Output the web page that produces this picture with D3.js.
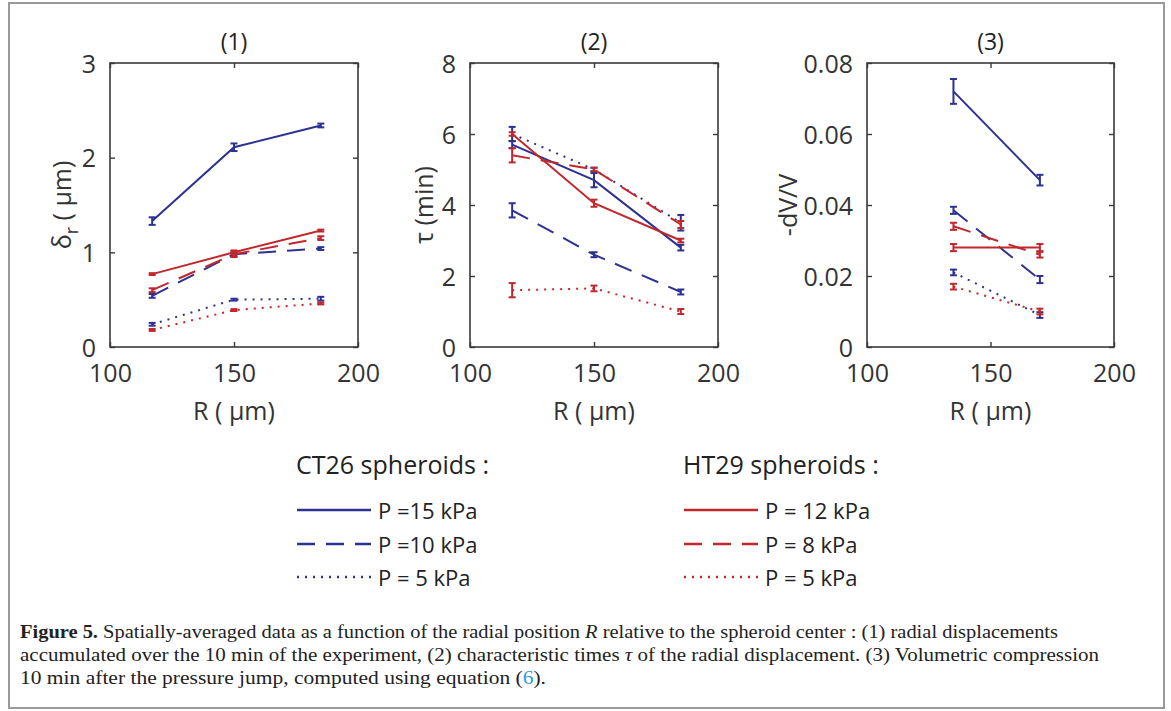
<!DOCTYPE html>
<html><head><meta charset="utf-8">
<script src="https://cdn.jsdelivr.net/npm/d3@7"></script>
<style>
html,body{margin:0;padding:0;background:#fff;}
svg{display:block;}
</style>
</head><body>
<svg id="fig" width="1171" height="711"></svg>
<script>
// ---------- data ----------
const xTicks = [100, 150, 200];
const R12 = [117, 150, 185];          // radial positions, panels 1 & 2
const R3 = [135, 170];                // radial positions, panel 3

const panelTitles = ["(1)", "(2)", "(3)"];
const yTicks1 = [0, 1, 2, 3];
const yTicks2 = [0, 2, 4, 6, 8];
const yTicks3 = [0, 0.02, 0.04, 0.06, 0.08];

const seriesLabels = ["P =15 kPa", "P =10 kPa", "P = 5 kPa", "P = 12 kPa", "P = 8 kPa", "P = 5 kPa"];
const seriesGroups = ["CT26", "CT26", "CT26", "HT29", "HT29", "HT29"];
const seriesKinds = ["solid", "dashed", "dotted", "solid", "dashed", "dotted"];
const groupTitles = ["CT26 spheroids :", "HT29 spheroids :"];

// panel 1: delta_r (um)
const d_ct15 = [1.33, 2.11, 2.34], d_ct15e = [0.04, 0.04, 0.02];
const d_ct10 = [0.54, 0.98, 1.04], d_ct10e = [0.02, 0.02, 0.015];
const d_ct5  = [0.24, 0.50, 0.51], d_ct5e  = [0.015, 0.01, 0.02];
const d_ht12 = [0.77, 1.00, 1.23], d_ht12e = [0.01, 0.02, 0.01];
const d_ht8  = [0.60, 0.98, 1.15], d_ht8e  = [0.02, 0.03, 0.02];
const d_ht5  = [0.18, 0.39, 0.46], d_ht5e  = [0.01, 0.01, 0.01];

// panel 2: tau (min)
const t_ct15 = [5.7, 4.7, 2.8],   t_ct15e = [0.1, 0.2, 0.08];
const t_ct10 = [3.85, 2.6, 1.55], t_ct10e = [0.2, 0.07, 0.07];
const t_ct5  = [6.0, 5.0, 3.5],   t_ct5e  = [0.2, 0.05, 0.22];
const t_ht12 = [6.0, 4.05, 3.0],  t_ht12e = [0.05, 0.1, 0.05];
const t_ht8  = [5.4, 5.0, 3.45],  t_ht8e  = [0.2, 0.05, 0.1];
const t_ht5  = [1.6, 1.65, 1.0],  t_ht5e  = [0.2, 0.08, 0.07];

// panel 3: -dV/V
const v_ct15 = [0.072, 0.047],  v_ct15e = [0.0035, 0.0015];
const v_ct10 = [0.0385, 0.019], v_ct10e = [0.001, 0.001];
const v_ct5  = [0.021, 0.009],  v_ct5e  = [0.0008, 0.0008];
const v_ht12 = [0.028, 0.028],  v_ht12e = [0.001, 0.001];
const v_ht8  = [0.034, 0.026],  v_ht8e  = [0.001, 0.0008];
const v_ht5  = [0.017, 0.010],  v_ht5e  = [0.0008, 0.0008];

// ---------- styles ----------
const colors = {CT26: "#2e3192", HT29: "#c1272d"};
const dashes = {solid: null, dashed: "18,11", dotted: "2,6"};
const FONT = "'Open Sans', 'Noto Sans', sans-serif";

const svg = d3.select("#fig");

// frame
svg.append("rect").attr("x", 9).attr("y", 3).attr("width", 1155).attr("height", 705)
  .attr("fill", "none").attr("stroke", "#9a9a9a").attr("stroke-width", 2);

const panels = [
  {x0: 110, x1: 358, yDomain: [0, 3], yTicks: yTicks1, fmt: d => String(d), R: R12,
   series: [[d_ct15, d_ct15e], [d_ct10, d_ct10e], [d_ct5, d_ct5e], [d_ht12, d_ht12e], [d_ht8, d_ht8e], [d_ht5, d_ht5e]],
   ylabX: 71, ylab: "delta"},
  {x0: 470, x1: 718, yDomain: [0, 8], yTicks: yTicks2, fmt: d => String(d), R: R12,
   series: [[t_ct15, t_ct15e], [t_ct10, t_ct10e], [t_ct5, t_ct5e], [t_ht12, t_ht12e], [t_ht8, t_ht8e], [t_ht5, t_ht5e]],
   ylabX: 433, ylab: "τ (min)"},
  {x0: 867, x1: 1114, yDomain: [0, 0.08], yTicks: yTicks3, fmt: d => d === 0 ? "0" : d3.format(".2f")(d), R: R3,
   series: [[v_ct15, v_ct15e], [v_ct10, v_ct10e], [v_ct5, v_ct5e], [v_ht12, v_ht12e], [v_ht8, v_ht8e], [v_ht5, v_ht5e]],
   ylabX: 797, ylab: "-dV/V"}
];

const yTop = 63, yBot = 347;
const AX = "#3a3a3a";

panels.forEach((p, pi) => {
  const x = d3.scaleLinear().domain([100, 200]).range([p.x0, p.x1]);
  const y = d3.scaleLinear().domain(p.yDomain).range([yBot, yTop]);
  const g = svg.append("g");

  // box
  g.append("rect").attr("x", p.x0).attr("y", yTop).attr("width", p.x1 - p.x0).attr("height", yBot - yTop)
    .attr("fill", "none").attr("stroke", AX).attr("stroke-width", 1.6);

  // axes (inward ticks)
  const ax = g.append("g").attr("transform", `translate(0,${yBot})`)
    .call(d3.axisBottom(x).tickValues(xTicks).tickSizeInner(-5).tickSizeOuter(0).tickPadding(17));
  const axTop = g.append("g").attr("transform", `translate(0,${yTop})`)
    .call(d3.axisTop(x).tickValues(xTicks).tickSizeInner(-5).tickSizeOuter(0).tickFormat(""));
  const ay = g.append("g").attr("transform", `translate(${p.x0},0)`)
    .call(d3.axisLeft(y).tickValues(p.yTicks).tickFormat(p.fmt).tickSizeInner(-5).tickSizeOuter(0).tickPadding(14));
  const ayR = g.append("g").attr("transform", `translate(${p.x1},0)`)
    .call(d3.axisRight(y).tickValues(p.yTicks).tickSizeInner(-5).tickSizeOuter(0).tickFormat(""));
  [ax, axTop, ay, ayR].forEach(a => {
    a.select(".domain").remove();
    a.selectAll("line").attr("stroke", AX).attr("stroke-width", 1.4);
    a.selectAll("text").attr("fill", "#333").style("font-family", FONT).style("font-size", "25px");
  });
  ax.selectAll("text").attr("dy", "0.71em");
  ay.selectAll("text").attr("dy", "0.36em");

  // title
  g.append("text").attr("x", (p.x0 + p.x1) / 2).attr("y", 50).attr("text-anchor", "middle")
    .attr("fill", "#222").style("font-family", FONT).style("font-size", "23px").text(panelTitles[pi]);

  // x label
  g.append("text").attr("x", (p.x0 + p.x1) / 2).attr("y", 420).attr("text-anchor", "middle")
    .attr("fill", "#333").style("font-family", FONT).style("font-size", "25px").text("R ( μm)");

  // y label
  const yl = g.append("text").attr("transform", `translate(${p.ylabX},${(yTop + yBot) / 2}) rotate(-90)`)
    .attr("text-anchor", "middle").attr("fill", "#333").style("font-family", FONT).style("font-size", "25px");
  if (p.ylab === "delta") {
    yl.append("tspan").text("δ");
    yl.append("tspan").attr("dy", 7).style("font-size", "18px").text("r");
    yl.append("tspan").attr("dy", -7).text(" ( μm)");
  } else {
    yl.text(p.ylab);
  }

  // data (CT26 first, then HT29 on top)
  const line = d3.line().x(d => x(d[0])).y(d => y(d[1]));
  p.series.forEach((s, si) => {
    const col = colors[seriesGroups[si]];
    const pts = p.R.map((r, i) => [r, s[0][i], s[1][i]]);
    g.append("path").datum(pts).attr("d", line).attr("fill", "none").attr("stroke", col)
      .attr("stroke-width", 2).attr("stroke-dasharray", dashes[seriesKinds[si]]);
    const eb = g.append("g").attr("stroke", col).attr("stroke-width", 2);
    pts.forEach(d => {
      const yl0 = y(d[1] - d[2]), yl1 = y(d[1] + d[2]);
      eb.append("line").attr("x1", x(d[0])).attr("x2", x(d[0])).attr("y1", yl0).attr("y2", yl1);
      eb.append("line").attr("x1", x(d[0]) - 3.5).attr("x2", x(d[0]) + 3.5).attr("y1", yl0).attr("y2", yl0);
      eb.append("line").attr("x1", x(d[0]) - 3.5).attr("x2", x(d[0]) + 3.5).attr("y1", yl1).attr("y2", yl1);
    });
  });
});

// ---------- legend ----------
const legX = {CT26: 297, HT29: 684};
const rowY = [510, 544, 577];
["CT26", "HT29"].forEach((grp, gi) => {
  svg.append("text").attr("x", legX[grp] - 1).attr("y", 474).attr("fill", "#222")
    .style("font-family", FONT).style("font-size", "25px").text(groupTitles[gi]);
  seriesLabels.forEach((lab, si) => {
    if (seriesGroups[si] !== grp) return;
    const r = si % 3;
    svg.append("line").attr("x1", legX[grp]).attr("x2", legX[grp] + 74)
      .attr("y1", rowY[r]).attr("y2", rowY[r]).attr("stroke", colors[grp]).attr("stroke-width", 2.6)
      .attr("stroke-dasharray", dashes[seriesKinds[si]]);
    svg.append("text").attr("x", legX[grp] + 81).attr("y", rowY[r] + 9).attr("fill", "#222")
      .style("font-family", FONT).style("font-size", "22px").text(lab);
  });
});

// ---------- caption ----------
const cap = svg.append("g").style("font-family", "'Liberation Serif', 'DejaVu Serif', serif")
  .style("font-size", "18px").attr("fill", "#222");
const c1 = cap.append("text").attr("x", 20).attr("y", 638).attr("textLength", 1038).attr("lengthAdjust", "spacingAndGlyphs");
c1.append("tspan").style("font-weight", "bold").text("Figure 5.");
c1.append("tspan").text(" Spatially-averaged data as a function of the radial position ");
c1.append("tspan").style("font-style", "italic").text("R");
c1.append("tspan").text(" relative to the spheroid center : (1) radial displacements");
const c2 = cap.append("text").attr("x", 20).attr("y", 661).attr("textLength", 1079).attr("lengthAdjust", "spacingAndGlyphs");
c2.append("tspan").text("accumulated over the 10 min of the experiment, (2) characteristic times ");
c2.append("tspan").style("font-style", "italic").text("τ");
c2.append("tspan").text(" of the radial displacement. (3) Volumetric compression");
const c3 = cap.append("text").attr("x", 20).attr("y", 684).attr("textLength", 526).attr("lengthAdjust", "spacingAndGlyphs");
c3.append("tspan").text("10 min after the pressure jump, computed using equation (");
c3.append("tspan").attr("fill", "#2a9fd6").text("6");
c3.append("tspan").text(").");
</script>
</body></html>
